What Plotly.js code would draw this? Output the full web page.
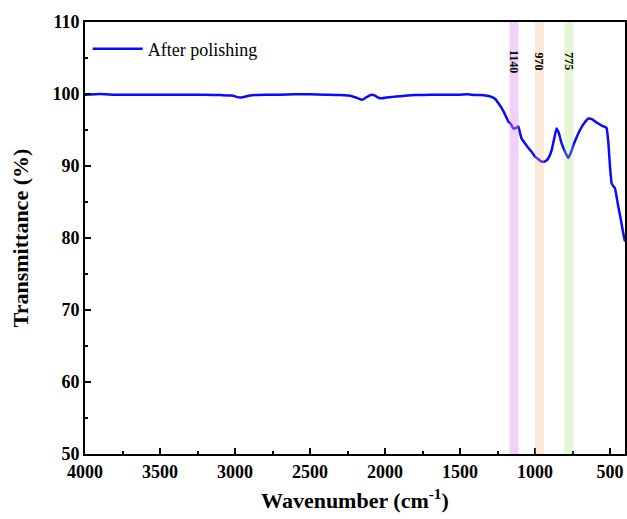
<!DOCTYPE html>
<html>
<head>
<meta charset="utf-8">
<script src="https://cdn.plot.ly/plotly-3.0.1.min.js"></script>
<style>html,body{margin:0;padding:0;background:#fff;}#chart{width:627px;height:519px;}</style>
</head>
<body>
<div id="chart"></div>
<script>
var wavenumber = [4000,3900,3800,3700,3600,3500,3400,3300,3200,3100,3020,2990,2967,2940,2900,2800,2700,2600,2500,2400,2300,2220,2180,2153,2120,2090,2070,2040,2020,1990,1950,1900,1800,1700,1600,1500,1450,1400,1367,1320,1290,1265,1240,1210,1178,1160,1144,1125,1111,1100,1089,1065,1044,1020,1000,975,956,940,922,905,889,872,856,840,822,800,778,760,744,720,700,670,644,620,600,570,544,530,522,510,500,489,478,467,455,444,430,411,400];
var transmittance = [99.9,100,99.9,99.9,99.9,99.9,99.9,99.9,99.9,99.85,99.8,99.6,99.5,99.6,99.8,99.9,99.9,99.95,99.95,99.9,99.85,99.7,99.4,99.2,99.6,99.9,99.8,99.45,99.4,99.5,99.6,99.7,99.85,99.9,99.9,99.9,99.95,99.85,99.85,99.75,99.6,99.3,98.6,97.6,96.2,95.8,95.2,95.3,95.5,94.6,93.8,93.1,92.5,91.9,91.3,90.9,90.6,90.6,90.8,91.3,92.2,93.8,95.2,94.5,93.1,92,91.1,91.9,92.9,94.1,95,96,96.6,96.5,96.2,95.8,95.5,95.4,95.2,93,89.9,87.6,87.2,86.9,85.6,84.3,82.8,80.6,79.5];
var bandCenters = [1140,970,775];
var bandLabels = ["1140","970","775"];
var bandColors = ["rgba(220,140,240,0.4)","rgba(245,180,130,0.3)","rgba(170,225,110,0.3)"];
var bandWidth = 60;
var xTickVals = [4000,3500,3000,2500,2000,1500,1000,500];
var yTickVals = [50,60,70,80,90,100,110];

var serif = "'Liberation Serif', 'Times New Roman', serif";
var shapes = [], annotations = [];
for (var i = 0; i < bandCenters.length; i++) {
  shapes.push({type:'rect', xref:'x', yref:'paper', x0:bandCenters[i]-bandWidth/2, x1:bandCenters[i]+bandWidth/2, y0:0, y1:1,
    fillcolor:bandColors[i], line:{width:0}, layer:'above'});
  annotations.push({x:bandCenters[i], xref:'x', y:104.6, yref:'y', text:'<b>'+bandLabels[i]+'</b>', textangle:90,
    showarrow:false, yanchor:'middle', xanchor:'center', font:{family:serif, size:12, color:'#000'}});
}

var trace = {x:wavenumber, y:transmittance, type:'scatter', mode:'lines', name:'After polishing',
  line:{color:'#0a0aff', width:2.5, shape:'spline', smoothing:0.4}};

var layout = {
  width:627, height:519,
  margin:{l:85, r:2, t:22, b:65},
  paper_bgcolor:'#fff', plot_bgcolor:'#fff',
  font:{family:serif, color:'#000'},
  showlegend:true,
  legend:{x:0.005, y:0.98, xanchor:'left', yanchor:'top', itemwidth:50, bgcolor:'rgba(0,0,0,0)', font:{family:serif, size:18, color:'#000'}},
  xaxis:{range:[4000,400], autorange:false, tickvals:xTickVals, ticks:'inside', ticklen:6, tickwidth:2, tickcolor:'#000',
    showline:true, linewidth:2, linecolor:'#000', mirror:true, showgrid:false, zeroline:false,
    minor:{dtick:250, ticks:'inside', ticklen:3, tickwidth:2, tickcolor:'#000'},
    tickfont:{family:serif, size:18, color:'#000', weight:'bold'},
    title:{text:'<b>Wavenumber (cm<sup>-1</sup>)</b>', font:{family:serif, size:22, color:'#000'}, standoff:12}},
  yaxis:{range:[50,110], autorange:false, tickvals:yTickVals, ticks:'inside', ticklen:6, tickwidth:2, tickcolor:'#000',
    showline:true, linewidth:2, linecolor:'#000', mirror:true, showgrid:false, zeroline:false,
    minor:{dtick:5, ticks:'inside', ticklen:3, tickwidth:2, tickcolor:'#000'},
    tickfont:{family:serif, size:18, color:'#000', weight:'bold'},
    title:{text:'<b>Transmittance (%)</b>', font:{family:serif, size:22, color:'#000'}, standoff:18}},
  shapes:shapes,
  annotations:annotations
};
Plotly.newPlot('chart', [trace], layout, {displayModeBar:false, staticPlot:true});
</script>
</body>
</html>
